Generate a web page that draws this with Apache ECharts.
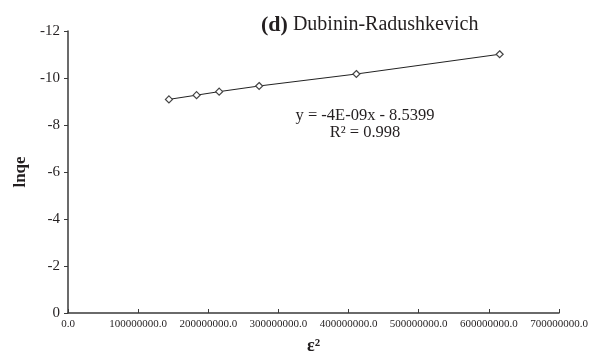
<!DOCTYPE html>
<html>
<head>
<meta charset="utf-8">
<script src="https://cdn.jsdelivr.net/npm/echarts@6/dist/echarts.min.js"></script>
<style>
  html, body { margin: 0; padding: 0; background: #fff; }
  #chart { width: 593px; height: 352px; }
</style>
</head>
<body>
<div id="chart"></div>
<script>
// Dubinin-Radushkevich linear plot: ln qe against epsilon squared
const epsSquared = [143900000, 183300000, 215500000, 272500000, 411100000, 615400000];
const lnQe = [-9.09, -9.27, -9.42, -9.66, -10.17, -11.01];
const xTicks = [0, 100000000, 200000000, 300000000, 400000000, 500000000, 600000000, 700000000];
const yTicks = [0, -2, -4, -6, -8, -10, -12];
const fitEquation = 'y = -4E-09x - 8.5399';
const fitR2 = 'R² = 0.998';

const serif = '"Liberation Serif", "DejaVu Serif", serif';
const ink = '#231f20';

const chart = echarts.init(document.getElementById('chart'), null, { renderer: 'canvas' });

chart.setOption({
  animation: false,
  backgroundColor: '#fff',
  title: {
    text: '{b|(d)} {n|Dubinin-Radushkevich}',
    left: 256,
    top: 9,
    textStyle: {
      fontWeight: 'normal',
      fontFamily: serif,
      fontSize: 20,
      color: ink,
      rich: {
        b: { fontFamily: serif, fontWeight: 'bold', fontSize: 22, color: ink },
        n: { fontFamily: serif, fontWeight: 'normal', fontSize: 20, color: ink }
      }
    }
  },
  graphic: [
    {
      type: 'text', x: 365, y: 116,
      style: { text: fitEquation, font: '16.5px ' + serif, fill: ink, align: 'center', verticalAlign: 'middle' }
    },
    {
      type: 'text', x: 365, y: 133,
      style: { text: fitR2, font: '16.5px ' + serif, fill: ink, align: 'center', verticalAlign: 'middle' }
    }
  ],
  grid: { left: 68, right: 34, top: 31, bottom: 39, containLabel: false, outerBoundsMode: 'none' },
  xAxis: {
    type: 'value',
    min: xTicks[0],
    max: xTicks[xTicks.length - 1],
    interval: 100000000,
    name: 'ε²',
    nameLocation: 'middle',
    nameGap: 24,
    nameTextStyle: { fontFamily: serif, fontSize: 18, fontWeight: 'bold', color: ink },
    axisLine: { lineStyle: { color: '#3a3a3a', width: 1.5 } },
    axisTick: { show: true, inside: true, length: 4, lineStyle: { color: '#3a3a3a', width: 1 } },
    axisLabel: {
      fontFamily: serif, fontSize: 11, color: ink, margin: 6,
      formatter: v => v.toFixed(1)
    },
    splitLine: { show: false }
  },
  yAxis: {
    type: 'value',
    inverse: true,
    min: yTicks[yTicks.length - 1],
    max: yTicks[0],
    interval: 2,
    name: 'lnqe',
    nameLocation: 'middle',
    nameRotate: 90,
    nameGap: 36,
    nameTextStyle: { fontFamily: serif, fontSize: 17, fontWeight: 'bold', color: ink },
    axisLine: { show: true, lineStyle: { color: '#3a3a3a', width: 1.5 } },
    axisTick: { show: true, inside: false, length: 4, lineStyle: { color: '#3a3a3a', width: 1 } },
    axisLabel: { fontFamily: serif, fontSize: 15, color: ink, margin: 8 },
    splitLine: { show: false }
  },
  series: [
    {
      type: 'line',
      data: epsSquared.map((x, i) => [x, lnQe[i]]),
      symbol: 'diamond',
      symbolSize: 7,
      showSymbol: true,
      lineStyle: { color: '#222', width: 1 },
      itemStyle: { color: '#fff', borderColor: '#444', borderWidth: 1.2 }
    }
  ]
});
</script>
</body>
</html>
